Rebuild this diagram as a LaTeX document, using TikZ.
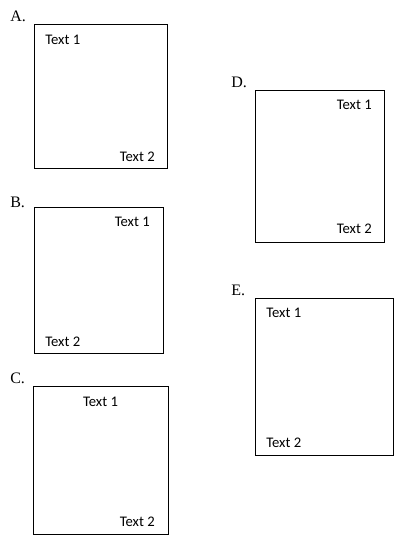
\documentclass[tikz,border=0pt]{standalone}
\usepackage{fontspec}
\setmainfont{Liberation Serif}
\newfontfamily\boxfont{Carlito}
\usetikzlibrary{positioning}

\tikzset{
  panel/.style={draw,line width=0.75pt,inner sep=0pt,anchor=north west},
  caption/.style={inner sep=0pt,anchor=west,font=\fontsize{12}{14}\selectfont},
  entry/.style={inner sep=0pt,font=\boxfont\fontsize{11}{13}\selectfont}
}

\begin{document}
\begin{tikzpicture}[x=0.75pt,y=-0.75pt]
  \useasboundingbox (0,0) rectangle (408,560);
  % A
  \node[caption] (labA) at (10,16) {A.};
  \node[panel,minimum width=133*0.75pt,minimum height=144*0.75pt] (boxA) at (34,24) {};
  \node[entry,anchor=west] (textA1) at (45,40) {Text 1};
  \node[entry,anchor=east] (textA2) at (155,157) {Text 2};
  % B
  \node[caption] (labB) at (10,202) {B.};
  \node[panel,minimum width=129*0.75pt,minimum height=146*0.75pt] (boxB) at (34,207) {};
  \node[entry,anchor=east] (textB1) at (150,222) {Text 1};
  \node[entry,anchor=west] (textB2) at (45,342) {Text 2};
  % C
  \node[caption] (labC) at (10,378.5) {C.};
  \node[panel,minimum width=135*0.75pt,minimum height=148*0.75pt] (boxC) at (33,386) {};
  \node[entry] (textC1) at (100.5,402) {Text 1};
  \node[entry,anchor=east] (textC2) at (155,522) {Text 2};
  % D
  \node[caption] (labD) at (231,82) {D.};
  \node[panel,minimum width=129*0.75pt,minimum height=152*0.75pt] (boxD) at (255,90) {};
  \node[entry,anchor=east] (textD1) at (372,105) {Text 1};
  \node[entry,anchor=east] (textD2) at (372,229) {Text 2};
  % E
  \node[caption] (labE) at (231,290.5) {E.};
  \node[panel,minimum width=138*0.75pt,minimum height=157*0.75pt] (boxE) at (255,298) {};
  \node[entry,anchor=west] (textE1) at (266,313) {Text 1};
  \node[entry,anchor=west] (textE2) at (266,443) {Text 2};
\end{tikzpicture}
\end{document}
